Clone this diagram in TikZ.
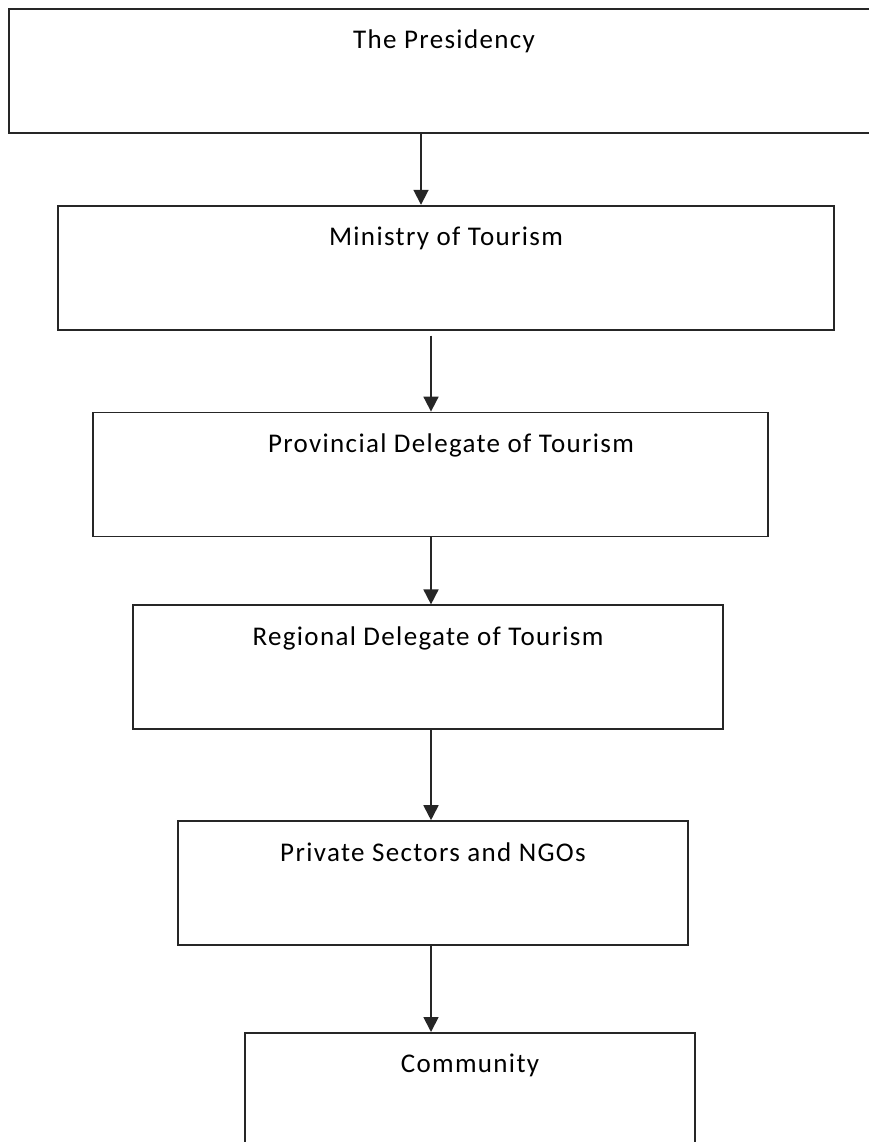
\documentclass[tikz,border=0pt]{standalone}
\usepackage{fontspec}
\setmainfont{Carlito}[LetterSpace=5]
\definecolor{chartInk}{HTML}{262626}
\usetikzlibrary{arrows.meta, positioning}

\begin{document}
\begin{tikzpicture}[
    x=1pt, y=1pt,
    box/.style={
      draw=chartInk,
      fill=white,
      line width=1.8pt,
      inner ysep=0pt,
      text height=40pt,
      text depth=84pt,
      minimum height=124pt,
      anchor=north,
      font=\fontsize{27}{32}\selectfont,
    },
    arr/.style={-{Triangle[width=15pt, length=15pt]}, chartInk, line width=1.8pt},
  ]
    \clip (0,0) rectangle (869,-1142);
    \fill[white] (0,0) rectangle (869,-1142);

    \node[box, minimum width=870pt] (pres) at (444,-8) {The Presidency};
    \node[box, minimum width=776pt, below=71pt of pres, xshift=2pt] (min) {Ministry of Tourism};
    \node[box, minimum width=675pt, below=81pt of min, xshift=-15.5pt] (prov) {\hspace*{41pt}Provincial Delegate of Tourism};
    \node[box, minimum width=590pt, below=67pt of prov, xshift=-2.5pt] (reg) {Regional Delegate of Tourism};
    \node[box, minimum width=510pt, below=90pt of reg, xshift=5pt] (priv) {Private Sectors and NGOs};
    \node[box, minimum width=450pt, text depth=140pt, below=86pt of priv, xshift=37pt] (comm) {Community};

    \draw[arr] ([xshift=-23pt]pres.south) -- ([xshift=-23pt]pres.south |- min.north);
    \draw[arr] ([xshift=-15pt, yshift=-5pt]min.south) -- ([xshift=-15pt]min.south |- prov.north);
    \draw[arr] ([xshift=0.5pt]prov.south) -- ([xshift=0.5pt]prov.south |- reg.north);
    \draw[arr] ([xshift=3pt]reg.south) -- ([xshift=3pt]reg.south |- priv.north);
    \draw[arr] ([xshift=-2pt]priv.south) -- ([xshift=-2pt]priv.south |- comm.north);
  \end{tikzpicture}
\end{document}
